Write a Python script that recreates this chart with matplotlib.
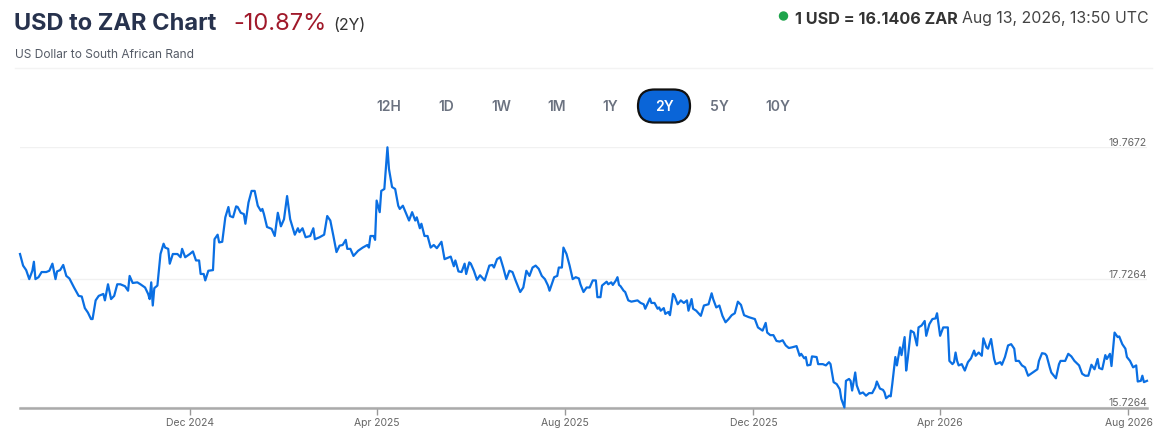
import pandas as pd
import numpy as np
import matplotlib
matplotlib.use('Agg')
import matplotlib.pyplot as plt
import matplotlib.dates as mdates
from matplotlib.patches import FancyBboxPatch, Circle

matplotlib.rcParams['font.family'] = ['Inter', 'DejaVu Sans']

# data: days since start date, USD/ZAR rate
start = '2024-08-13'
days = [0, 2, 4, 6, 8, 9, 10, 12, 14, 17, 19, 21,
        23, 24, 26, 28, 30, 32, 35, 38, 40, 42, 44, 46,
        47, 49, 51, 52, 54, 55, 57, 59, 61, 63, 65, 68,
        70, 71, 73, 76, 78, 81, 83, 84, 85, 86, 87, 89,
        91, 93, 94, 96, 97, 99, 102, 104, 105, 107, 110, 112,
        114, 116, 117, 119, 120, 122, 125, 126, 128, 129, 131, 133,
        135, 136, 138, 140, 141, 143, 145, 146, 148, 150, 152, 154,
        156, 157, 158, 160, 163, 165, 167, 169, 171, 173, 175, 178,
        180, 181, 183, 185, 188, 190, 191, 194, 197, 199, 201, 203,
        205, 207, 209, 211, 212, 214, 216, 219, 222, 225, 226, 227,
        229, 230, 231, 233, 234, 236, 238, 239, 241, 243, 245, 246,
        248, 252, 254, 256, 257, 259, 260, 262, 264, 266, 268, 270,
        273, 275, 279, 281, 282, 284, 286, 288, 289, 291, 292, 294,
        296, 298, 301, 304, 306, 307, 309, 311, 313, 315, 317, 319,
        321, 324, 326, 328, 330, 332, 334, 336, 338, 340, 342, 343,
        346, 348, 349, 351, 352, 354, 356, 358, 360, 362, 363, 365,
        367, 369, 371, 373, 374, 376, 377, 380, 381, 383, 384, 386,
        387, 388, 389, 391, 392, 394, 396, 400, 402, 404, 405, 408,
        409, 411, 413, 414, 415, 417, 418, 420, 421, 423, 424, 426,
        428, 430, 432, 433, 435, 436, 438, 441, 443, 446, 448, 449,
        451, 453, 455, 457, 459, 461, 463, 465, 467, 469, 472, 476,
        478, 481, 483, 484, 486, 488, 490, 492, 494, 496, 498, 500,
        503, 505, 506, 508, 509, 510, 512, 513, 516, 517, 520, 522,
        524, 525, 527, 529, 531, 532, 534, 535, 537, 538, 539, 541,
        542, 544, 546, 548, 550, 552, 554, 555, 557, 559, 560, 561,
        563, 564, 565, 567, 568, 570, 571, 573, 574, 575, 577, 579,
        581, 582, 584, 586, 587, 589, 591, 593, 594, 596, 598, 601,
        602, 604, 605, 606, 607, 608, 610, 612, 614, 616, 618, 619,
        621, 623, 624, 626, 627, 629, 631, 632, 635, 636, 638, 640,
        642, 644, 645, 647, 649, 651, 653, 656, 659, 660, 662, 664,
        665, 667, 668, 671, 673, 674, 677, 679, 681, 683, 686, 688,
        690, 692, 694, 696, 698, 699, 701, 703, 704, 706, 707, 709,
        711, 712, 714, 716, 717, 719, 721, 723, 724, 726, 727, 728,
        730]
rate = [18.11, 17.93, 17.86, 17.72, 17.85, 17.99, 17.72, 17.75, 17.83, 17.83, 17.85, 17.96,
        17.72, 17.84, 17.86, 17.94, 17.77, 17.73, 17.59, 17.46, 17.45, 17.27, 17.20, 17.10,
        17.10, 17.39, 17.46, 17.47, 17.49, 17.39, 17.64, 17.41, 17.46, 17.64, 17.64, 17.61,
        17.54, 17.77, 17.66, 17.67, 17.64, 17.59, 17.49, 17.41, 17.67, 17.31, 17.58, 17.62,
        18.11, 18.27, 18.21, 18.19, 17.96, 18.11, 18.11, 18.06, 18.19, 18.06, 18.11, 18.15,
        18.01, 18.01, 17.80, 17.80, 17.70, 17.85, 17.86, 18.34, 18.41, 18.29, 18.30, 18.68,
        18.84, 18.70, 18.68, 18.85, 18.84, 18.75, 18.73, 18.58, 18.91, 19.09, 19.09, 18.86,
        18.78, 18.81, 18.73, 18.53, 18.50, 18.39, 18.75, 18.54, 18.65, 19.01, 18.65, 18.41,
        18.51, 18.45, 18.51, 18.37, 18.39, 18.51, 18.34, 18.37, 18.41, 18.70, 18.63, 18.39,
        18.14, 18.24, 18.25, 18.33, 18.19, 18.19, 18.08, 18.16, 18.21, 18.25, 18.21, 18.39,
        18.39, 18.33, 18.94, 18.76, 19.09, 19.12, 19.7672, 19.43, 19.15, 19.12, 18.86, 18.81,
        18.86, 18.63, 18.76, 18.63, 18.68, 18.51, 18.58, 18.39, 18.39, 18.21, 18.25, 18.20,
        18.30, 18.03, 18.07, 17.92, 18.01, 17.84, 17.83, 17.96, 17.80, 17.98, 17.96, 17.85,
        17.71, 17.78, 17.70, 17.93, 17.94, 17.90, 18.03, 18.06, 17.90, 17.72, 17.85, 17.83,
        17.70, 17.52, 17.59, 17.85, 17.77, 17.90, 17.93, 17.88, 17.77, 17.72, 17.62, 17.54,
        17.75, 17.77, 17.90, 17.90, 18.21, 18.11, 17.93, 17.72, 17.75, 17.73, 17.64, 17.52,
        17.59, 17.59, 17.70, 17.70, 17.44, 17.44, 17.62, 17.68, 17.64, 17.67, 17.63, 17.70,
        17.75, 17.63, 17.61, 17.54, 17.52, 17.39, 17.37, 17.39, 17.35, 17.33, 17.26, 17.42,
        17.35, 17.35, 17.26, 17.28, 17.23, 17.27, 17.18, 17.21, 17.16, 17.49, 17.46, 17.33,
        17.39, 17.35, 17.39, 17.23, 17.41, 17.26, 17.23, 17.15, 17.31, 17.33, 17.50, 17.41,
        17.28, 17.31, 17.15, 17.05, 17.10, 17.16, 17.19, 17.37, 17.32, 17.16, 17.13, 17.10,
        16.97, 16.92, 17.04, 16.89, 16.85, 16.85, 16.76, 16.75, 16.77, 16.69, 16.65, 16.66,
        16.68, 16.53, 16.56, 16.49, 16.51, 16.38, 16.39, 16.52, 16.51, 16.40, 16.40, 16.38,
        16.43, 16.40, 16.12, 16.09, 16.01, 15.86, 15.7264, 16.14, 16.17, 16.14, 15.99, 16.27,
        16.07, 15.94, 15.96, 15.91, 15.95, 15.95, 16.04, 16.13, 16.02, 16.00, 15.96, 15.87,
        15.91, 15.90, 16.09, 16.51, 16.38, 16.66, 16.54, 16.82, 16.30, 16.48, 16.92, 16.89,
        16.69, 16.97, 17.00, 17.07, 16.84, 17.02, 17.10, 17.11, 17.19, 16.84, 16.97, 16.97,
        16.45, 16.40, 16.43, 16.58, 16.45, 16.38, 16.40, 16.30, 16.43, 16.49, 16.61, 16.53,
        16.58, 16.53, 16.80, 16.66, 16.64, 16.79, 16.48, 16.40, 16.43, 16.39, 16.51, 16.69,
        16.71, 16.64, 16.45, 16.45, 16.38, 16.35, 16.22, 16.27, 16.32, 16.45, 16.57, 16.56,
        16.53, 16.35, 16.27, 16.18, 16.40, 16.45, 16.45, 16.56, 16.52, 16.45, 16.38, 16.25,
        16.22, 16.22, 16.39, 16.32, 16.48, 16.34, 16.32, 16.54, 16.48, 16.56, 16.37, 16.89,
        16.82, 16.83, 16.71, 16.64, 16.51, 16.45, 16.35, 16.38, 16.13, 16.14, 16.22, 16.12,
        16.1406]

y_ticks = [15.7264, 17.7264, 19.7672]
x_ticks = ['2024-12-01', '2025-04-01', '2025-08-01', '2025-12-01', '2026-04-01', '2026-08-01']
ranges = ['12H', '1D', '1W', '1M', '1Y', '2Y', '5Y', '10Y']
selected = '2Y'

dates = pd.to_datetime(start) + pd.to_timedelta(days, unit='D')

W, H = 1169, 435
fig = plt.figure(figsize=(W / 100, H / 100), dpi=100)

# header drawn in a pixel-coordinate overlay
bg = fig.add_axes([0, 0, 1, 1])
bg.set_xlim(0, W)
bg.set_ylim(H, 0)
bg.axis('off')

bg.text(14, 29.5, 'USD to ZAR Chart', fontsize=17, fontweight='bold', color='#27324d', va='baseline')
bg.text(233, 29.5, '-10.87%', fontsize=17, color='#a0192a', va='baseline')
bg.text(333, 29.5, '(2Y)', fontsize=11.5, color='#333333', va='baseline')
bg.text(15, 57.5, 'US Dollar to South African Rand', fontsize=8.6, color='#555b66', va='baseline')
bg.plot([15, 1152], [69, 69], color='#f3f3f3', linewidth=1)

bg.add_patch(Circle((783.5, 17), 4, color='#1ea44b'))
bg.text(795, 23.5, '1 USD = 16.1406 ZAR', fontsize=11.6, fontweight='bold', color='#333333', va='baseline')
bg.text(1149, 23.5, 'Aug 13, 2026, 13:50 UTC', fontsize=11.4, color='#444444', va='baseline', ha='right')

btn_x = [389, 446.5, 501, 556.5, 610.5, 664, 719, 777.5]
for lab, bx in zip(ranges, btn_x):
    if lab == selected:
        bg.add_patch(FancyBboxPatch((bx - 26, 90.5), 52, 33, boxstyle='round,pad=0,rounding_size=16.5',
                                    facecolor='#0a65d8', edgecolor='#111111', linewidth=1.6))
        bg.text(bx, 107, lab, fontsize=10, fontweight='semibold', color='white', ha='center', va='center')
    else:
        bg.text(bx, 107, lab, fontsize=10, fontweight='semibold', color='#6b7280', ha='center', va='center')

# chart
ax = fig.add_axes([20 / W, 1 - 408.5 / H, (1147 - 20) / W, (408.5 - 148.3) / H])
ax.patch.set_alpha(0)
ax.plot(dates, rate, color='#0a6fe3', linewidth=1.6, clip_on=False, zorder=3)

ax.set_xlim(pd.to_datetime(start), dates[-1])
ax.set_ylim(y_ticks[0], y_ticks[-1])

ax.set_yticks(y_ticks)
ax.set_yticklabels([f'{v:.4f}' for v in y_ticks])
ax.yaxis.tick_right()
ax.tick_params(axis='y', length=0, pad=0, labelsize=7.5, labelcolor='#666666')
for t in ax.get_yticklabels():
    t.set_ha('right')
    t.set_va('bottom')
ax.grid(axis='y', color='#f1f1f1', linewidth=1)

ax.set_xticks(pd.to_datetime(x_ticks))
ax.xaxis.set_major_formatter(mdates.DateFormatter('%b %Y'))
ax.tick_params(axis='x', length=5, width=1, color='#999999', pad=2, labelsize=7.5, labelcolor='#666666')

for s in ['top', 'left', 'right']:
    ax.spines[s].set_visible(False)
ax.spines['bottom'].set_color('#aaaaaa')
ax.spines['bottom'].set_linewidth(1.8)

fig.savefig('out.png', dpi=100)
